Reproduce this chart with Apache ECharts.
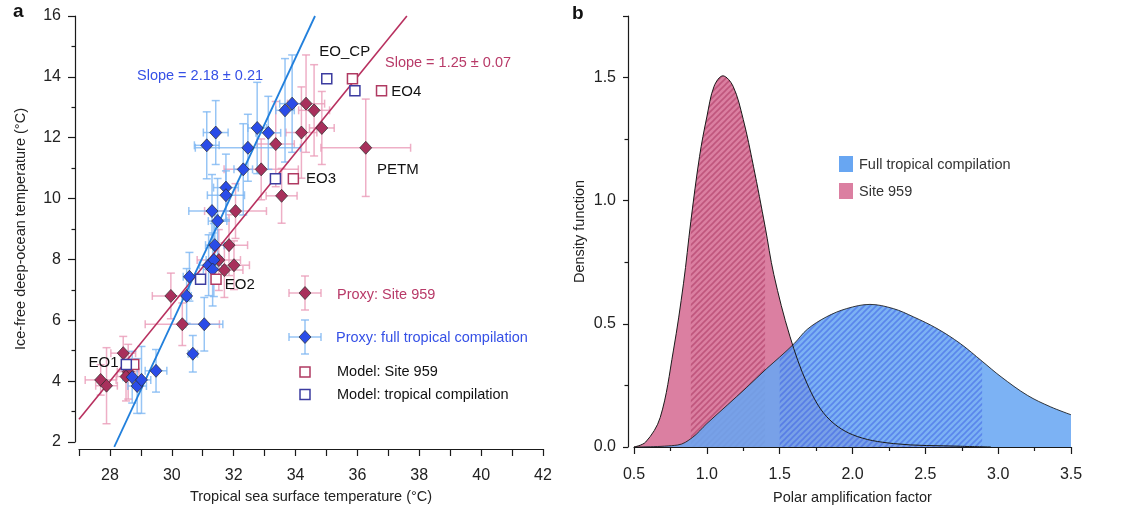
<!DOCTYPE html>
<html><head><meta charset="utf-8">
<script src="https://cdn.jsdelivr.net/npm/echarts@6/dist/echarts.min.js"></script>
<style>html,body{margin:0;padding:0;background:#fff}#c{width:1139px;height:507px}</style>
</head><body><div id="c"></div>
<script>
// ---------- Panel a data ----------
const siteProxyX    = [27.70, 27.89, 28.43, 28.59, 28.52, 29.97, 30.34, 31.70, 32.01, 31.52, 31.85, 32.06, 33.55, 32.89, 33.36, 34.19, 34.34, 34.60, 34.85, 36.27];
const siteProxyY    = [4.04, 3.85, 4.92, 4.31, 4.15, 6.80, 5.87, 7.65, 7.81, 7.98, 8.47, 9.59, 10.09, 10.96, 11.79, 12.17, 13.12, 12.90, 12.32, 11.67];
const siteProxyXErr = [0.5, 0.35, 0.4, 0.35, 0.3, 0.6, 1.2, 0.6, 0.5, 0.7, 0.6, 1.0, 0.5, 1.2, 0.6, 0.5, 0.6, 0.5, 0.4, 1.45];
const siteProxyYErr = [0.5, 1.25, 0.55, 0.9, 0.8, 0.75, 0.7, 0.9, 0.8, 1.0, 1.0, 0.9, 0.9, 1.0, 1.4, 1.5, 1.6, 1.5, 1.2, 1.6];
const siteProxyLabels = ['', '', '', '', '', '', '', '', '', '', '', '', '', '', '', '', '', '', '', 'PETM'];

const tropProxyX    = [28.72, 28.88, 29.02, 29.49, 30.68, 31.05, 30.48, 30.57, 31.19, 31.36, 31.32, 31.39, 31.48, 31.30, 31.75, 31.75, 32.31, 31.13, 31.42, 32.46, 32.76, 33.12, 33.66, 33.89];
const tropProxyY    = [4.13, 3.84, 4.04, 4.34, 4.90, 5.87, 6.80, 7.43, 7.81, 7.98, 7.67, 8.47, 9.26, 9.59, 10.36, 10.11, 10.96, 11.75, 12.17, 11.67, 12.32, 12.16, 12.90, 13.12];
const tropProxyXErr = [0.3, 0.3, 0.3, 0.35, 0.15, 0.6, 0.15, 0.2, 0.3, 0.25, 0.3, 0.3, 0.3, 0.75, 0.4, 0.6, 0.3, 0.4, 0.4, 1.7, 0.3, 0.4, 0.3, 0.4];
const tropProxyYErr = [0.85, 0.9, 1.1, 0.7, 0.6, 0.88, 0.9, 0.8, 1.0, 1.2, 1.2, 1.0, 1.4, 1.2, 1.1, 0.8, 1.5, 1.1, 1.05, 1.1, 1.5, 1.2, 1.7, 1.6];

const modelNames = ['EO1', 'EO2', 'EO3', 'EO_CP', 'EO4'];
const modelSiteX = [28.77, 31.43, 33.93, 35.84, 36.78];
const modelSiteY = [4.55, 7.35, 10.65, 13.94, 13.54];
const modelTropX = [28.53, 30.93, 33.35, 35.01, 35.92];
const modelTropY = [4.55, 7.35, 10.65, 13.94, 13.54];

const siteFitX = [27.0, 37.6];
const siteFitY = [2.75, 16.0];
const tropFitX = [28.14, 34.63];
const tropFitY = [1.84, 16.0];

const slopeSiteText = 'Slope = 1.25 ± 0.07';
const slopeTropText = 'Slope = 2.18 ± 0.21';

// ---------- Panel b data ----------
const siteDensX = [0.5, 0.58, 0.68, 0.77, 0.84, 0.89, 0.95, 1.0, 1.05, 1.11, 1.18, 1.25, 1.32, 1.40, 1.46, 1.57, 1.69, 1.82, 2.0, 2.28, 2.74, 2.95];
const siteDensY = [0.0, 0.02, 0.12, 0.39, 0.665, 0.915, 1.18, 1.34, 1.465, 1.507, 1.465, 1.33, 1.14, 0.895, 0.70, 0.45, 0.255, 0.125, 0.05, 0.014, 0.003, 0.0];
const tropDensX = [0.5, 0.8, 0.9, 1.0, 1.14, 1.27, 1.41, 1.5, 1.6, 1.69, 1.82, 1.96, 2.12, 2.28, 2.42, 2.58, 2.74, 2.89, 3.02, 3.2, 3.36, 3.5];
const tropDensY = [0.0, 0.008, 0.038, 0.095, 0.17, 0.24, 0.318, 0.365, 0.42, 0.478, 0.528, 0.562, 0.579, 0.562, 0.528, 0.481, 0.42, 0.348, 0.285, 0.21, 0.163, 0.131];
const siteRange = [0.89, 1.40];
const tropRange = [1.5, 2.89];

// ---------- helpers ----------
const FONT = '"Liberation Sans", Arial, Helvetica, sans-serif';
const pts = (xs, ys) => xs.map((x, i) => [x, ys[i]]);
const errPts = (xs, ys, ex, ey) => xs.map((x, i) => [x, ys[i], ex[i], ey[i]]);
const inRange = (xs, ys, r) => pts(xs, ys).filter(p => p[0] >= r[0] - 1e-9 && p[0] <= r[1] + 1e-9);

function errRender(color) {
  return function (params, api) {
    const x = api.value(0), y = api.value(1), ex = api.value(2), ey = api.value(3);
    const l = api.coord([x - ex, y]), r = api.coord([x + ex, y]);
    const b = api.coord([x, y - ey]), t = api.coord([x, y + ey]);
    const c = 4;
    const st = () => ({ stroke: color, lineWidth: 1.5 });
    const ln = (x1, y1, x2, y2) => ({ type: 'line', shape: { x1, y1, x2, y2 }, style: st() });
    return { type: 'group', children: [
      ln(l[0], l[1], r[0], r[1]),
      ln(l[0], l[1] - c, l[0], l[1] + c),
      ln(r[0], r[1] - c, r[0], r[1] + c),
      ln(b[0], b[1], t[0], t[1]),
      ln(b[0] - c, b[1], b[0] + c, b[1]),
      ln(t[0] - c, t[1], t[0] + c, t[1])
    ]};
  };
}

function hatch(color) {
  const s = 6, cv = document.createElement('canvas');
  cv.width = s; cv.height = s;
  const g = cv.getContext('2d');
  g.strokeStyle = color; g.lineWidth = 1.6;
  g.beginPath();
  g.moveTo(-1, s + 1); g.lineTo(s + 1, -1);
  g.moveTo(-1, 1); g.lineTo(1, -1);
  g.moveTo(s - 1, s + 1); g.lineTo(s + 1, s - 1);
  g.stroke();
  return cv;
}

const RED = '#a8305c', BLUE = '#2a4ce8';
const PINK_ERR = 'rgba(234,155,184,0.8)', BLUE_ERR = 'rgba(125,183,242,0.8)';
const AX = '#1a1a1a';

const labelCfg = { color: '#111', fontSize: 15, fontFamily: FONT };
const siteLabelPos = { EO2: { position: 'right', distance: 3, offset: [0, 6] }, EO3: { position: 'right', distance: 7 }, EO4: { position: 'right', distance: 4, offset: [0, 1] } };
const tropLabelPos = { EO1: { position: 'left', distance: 2, offset: [0, -2] }, EO_CP: { position: 'top', distance: 14, offset: [18, 0] } };

const siteModelData = modelSiteX.map((x, i) => {
  const n = modelNames[i], p = siteLabelPos[n];
  return p ? { value: [x, modelSiteY[i]], label: Object.assign({ show: true, formatter: n }, labelCfg, p) } : { value: [x, modelSiteY[i]] };
});
const tropModelData = modelTropX.map((x, i) => {
  const n = modelNames[i], p = tropLabelPos[n];
  return p ? { value: [x, modelTropY[i]], label: Object.assign({ show: true, formatter: n }, labelCfg, p) } : { value: [x, modelTropY[i]] };
});
const siteProxyData = siteProxyX.map((x, i) => {
  const n = siteProxyLabels[i];
  return n ? { value: [x, siteProxyY[i]], label: Object.assign({ show: true, formatter: n, position: 'right', distance: 5, offset: [0, 22] }, labelCfg) } : { value: [x, siteProxyY[i]] };
});

const axisCommon = (extra) => Object.assign({
  type: 'value',
  splitLine: { show: false },
  axisLine: { show: true, lineStyle: { color: AX, width: 1.2 } },
  axisTick: { show: true, length: 7, lineStyle: { color: AX, width: 1.2 } },
  axisLabel: { fontSize: 16, color: '#222', fontFamily: FONT },
  nameLocation: 'middle',
  nameTextStyle: { fontSize: 14.5, color: '#222', fontFamily: FONT }
}, extra);

const chart = echarts.init(document.getElementById('c'));
const option = {
  animation: false,
  backgroundColor: '#fff',
  textStyle: { fontFamily: FONT },
  grid: [
    { left: 79, top: 16, width: 464, height: 426, containLabel: false, outerBoundsMode: 'none' },
    { left: 634, top: 16, width: 437, height: 431, containLabel: false, outerBoundsMode: 'none' }
  ],
  xAxis: [
    axisCommon({ gridIndex: 0, min: 27, max: 42, interval: 1, offset: 7,
      axisLabel: { fontSize: 16, color: '#222', fontFamily: FONT, margin: 19, formatter: v => (Math.round(v) % 2 === 0 ? String(v) : '') },
      name: 'Tropical sea surface temperature (°C)', nameGap: 40 }),
    axisCommon({ gridIndex: 1, min: 0.5, max: 3.5, interval: 0.5, offset: 1,
      minorTick: { show: true, splitNumber: 2, length: 4, lineStyle: { color: AX, width: 1.2 } },
      axisLabel: { fontSize: 16, color: '#222', fontFamily: FONT, margin: 19, formatter: v => v.toFixed(1) },
      name: 'Polar amplification factor', nameGap: 42 })
  ],
  yAxis: [
    axisCommon({ gridIndex: 0, min: 2, max: 16, interval: 2, offset: 4,
      minorTick: { show: true, splitNumber: 2, length: 3.5, lineStyle: { color: AX, width: 1.2 } },
      axisLabel: { fontSize: 16, color: '#222', fontFamily: FONT, margin: 14 },
      name: 'Ice-free deep-ocean temperature (°C)', nameGap: 47, nameRotate: 90 }),
    axisCommon({ gridIndex: 1, min: 0, max: 1.75, interval: 0.5, offset: 6,
      minorTick: { show: true, splitNumber: 2, length: 3.5, lineStyle: { color: AX, width: 1.2 } },
      axisTick: { show: true, length: 5, lineStyle: { color: AX, width: 1.2 } },
      axisLabel: { fontSize: 16, color: '#222', fontFamily: FONT, margin: 12,
        formatter: v => (Math.abs(v * 2 - Math.round(v * 2)) < 1e-6 ? v.toFixed(1) : '') },
      name: 'Density function', nameGap: 41, nameRotate: 90 })
  ],
  series: [
    // ---- panel a ----
    { type: 'custom', name: 'siteErr', xAxisIndex: 0, yAxisIndex: 0, renderItem: errRender(PINK_ERR),
      encode: { x: 0, y: 1 }, data: errPts(siteProxyX, siteProxyY, siteProxyXErr, siteProxyYErr), z: 1, silent: true },
    { type: 'custom', name: 'tropErr', xAxisIndex: 0, yAxisIndex: 0, renderItem: errRender(BLUE_ERR),
      encode: { x: 0, y: 1 }, data: errPts(tropProxyX, tropProxyY, tropProxyXErr, tropProxyYErr), z: 1, silent: true },
    { type: 'line', name: 'siteFit', xAxisIndex: 0, yAxisIndex: 0, data: pts(siteFitX, siteFitY), symbol: 'none',
      lineStyle: { color: '#b8305f', width: 1.6 }, z: 2, clip: false },
    { type: 'line', name: 'tropFit', xAxisIndex: 0, yAxisIndex: 0, data: pts(tropFitX, tropFitY), symbol: 'none',
      lineStyle: { color: '#2280dc', width: 1.8 }, z: 2, clip: false },
    { type: 'scatter', name: 'Proxy: Site 959', xAxisIndex: 0, yAxisIndex: 0, data: siteProxyData, symbol: 'diamond', symbolSize: [12, 13],
      itemStyle: { color: RED, borderColor: '#2a2a2a', borderWidth: 0.7, opacity: 1 }, z: 3 },
    { type: 'scatter', name: 'Proxy: full tropical compilation', xAxisIndex: 0, yAxisIndex: 0, data: pts(tropProxyX, tropProxyY), symbol: 'diamond', symbolSize: [12, 13],
      itemStyle: { color: BLUE, borderColor: '#2a2a2a', borderWidth: 0.7, opacity: 1 }, z: 3 },
    { type: 'scatter', name: 'Model: Site 959', xAxisIndex: 0, yAxisIndex: 0, data: siteModelData, symbol: 'rect', symbolSize: 10,
      itemStyle: { color: '#fff', borderColor: '#b03a62', borderWidth: 1.5, opacity: 1 }, z: 4 },
    { type: 'scatter', name: 'Model: tropical compilation', xAxisIndex: 0, yAxisIndex: 0, data: tropModelData, symbol: 'rect', symbolSize: 10,
      itemStyle: { color: '#fff', borderColor: '#3c3ca0', borderWidth: 1.5, opacity: 1 }, z: 4 },
    // ---- panel b ----
    { type: 'line', name: 'Site 959', xAxisIndex: 1, yAxisIndex: 1, data: pts(siteDensX, siteDensY), smooth: 0.35, symbol: 'none',
      lineStyle: { color: '#1a1a1a', width: 1 }, areaStyle: { color: '#db7fa1', opacity: 1 }, z: 2 },
    { type: 'line', name: 'Site 959 range', xAxisIndex: 1, yAxisIndex: 1, data: inRange(siteDensX, siteDensY, siteRange), smooth: 0.35, symbol: 'none',
      lineStyle: { width: 0, opacity: 0 }, areaStyle: { color: { image: hatch('rgba(165,45,90,0.5)'), repeat: 'repeat' }, opacity: 1 }, z: 2 },
    { type: 'line', name: 'Full tropical compilation', xAxisIndex: 1, yAxisIndex: 1, data: pts(tropDensX, tropDensY), smooth: 0.35, symbol: 'none',
      lineStyle: { color: '#1a1a1a', width: 1, opacity: 0.85 }, areaStyle: { color: '#68a6f2', opacity: 0.87 }, z: 2 },
    { type: 'line', name: 'Tropical range', xAxisIndex: 1, yAxisIndex: 1, data: inRange(tropDensX, tropDensY, tropRange), smooth: 0.35, symbol: 'none',
      lineStyle: { width: 0, opacity: 0 }, areaStyle: { color: { image: hatch('rgba(55,90,228,0.5)'), repeat: 'repeat' }, opacity: 1 }, z: 2 }
  ],
  graphic: [
    { type: 'text', left: 13, top: 2, style: { text: 'a', font: 'bold 19px ' + FONT, fill: '#111' } },
    { type: 'text', left: 572, top: 4, style: { text: 'b', font: 'bold 19px ' + FONT, fill: '#111' } },
    { type: 'text', x: 137, y: 76, style: { text: slopeTropText, font: '14.5px ' + FONT, fill: '#3550e6', textVerticalAlign: 'middle' } },
    { type: 'text', x: 385, y: 63, style: { text: slopeSiteText, font: '14.5px ' + FONT, fill: '#b83a68', textVerticalAlign: 'middle' } },
    // legend panel a
    { type: 'group', children: [
      { type: 'line', shape: { x1: 289, y1: 293, x2: 321, y2: 293 }, style: { stroke: PINK_ERR, lineWidth: 1.5 } },
      { type: 'line', shape: { x1: 289, y1: 289, x2: 289, y2: 297 }, style: { stroke: PINK_ERR, lineWidth: 1.5 } },
      { type: 'line', shape: { x1: 321, y1: 289, x2: 321, y2: 297 }, style: { stroke: PINK_ERR, lineWidth: 1.5 } },
      { type: 'line', shape: { x1: 305, y1: 276, x2: 305, y2: 310 }, style: { stroke: PINK_ERR, lineWidth: 1.5 } },
      { type: 'line', shape: { x1: 301, y1: 276, x2: 309, y2: 276 }, style: { stroke: PINK_ERR, lineWidth: 1.5 } },
      { type: 'line', shape: { x1: 301, y1: 310, x2: 309, y2: 310 }, style: { stroke: PINK_ERR, lineWidth: 1.5 } },
      { type: 'polygon', shape: { points: [[305, 286.5], [311, 293], [305, 299.5], [299, 293]] }, style: { fill: RED, stroke: '#2a2a2a', lineWidth: 0.7 } },
      { type: 'text', x: 337, y: 295, style: { text: 'Proxy: Site 959', font: '14.5px ' + FONT, fill: '#b83a68', textVerticalAlign: 'middle' } },

      { type: 'line', shape: { x1: 289, y1: 337, x2: 321, y2: 337 }, style: { stroke: BLUE_ERR, lineWidth: 1.5 } },
      { type: 'line', shape: { x1: 289, y1: 333, x2: 289, y2: 341 }, style: { stroke: BLUE_ERR, lineWidth: 1.5 } },
      { type: 'line', shape: { x1: 321, y1: 333, x2: 321, y2: 341 }, style: { stroke: BLUE_ERR, lineWidth: 1.5 } },
      { type: 'line', shape: { x1: 305, y1: 320, x2: 305, y2: 354 }, style: { stroke: BLUE_ERR, lineWidth: 1.5 } },
      { type: 'line', shape: { x1: 301, y1: 320, x2: 309, y2: 320 }, style: { stroke: BLUE_ERR, lineWidth: 1.5 } },
      { type: 'line', shape: { x1: 301, y1: 354, x2: 309, y2: 354 }, style: { stroke: BLUE_ERR, lineWidth: 1.5 } },
      { type: 'polygon', shape: { points: [[305, 330.5], [311, 337], [305, 343.5], [299, 337]] }, style: { fill: BLUE, stroke: '#2a2a2a', lineWidth: 0.7 } },
      { type: 'text', x: 336, y: 338, style: { text: 'Proxy: full tropical compilation', font: '14.5px ' + FONT, fill: '#3550e6', textVerticalAlign: 'middle' } },

      { type: 'rect', shape: { x: 300, y: 367, width: 10, height: 10 }, style: { fill: '#fff', stroke: '#b03a62', lineWidth: 1.5 } },
      { type: 'text', x: 337, y: 372, style: { text: 'Model: Site 959', font: '14.5px ' + FONT, fill: '#111', textVerticalAlign: 'middle' } },
      { type: 'rect', shape: { x: 300, y: 389.5, width: 10, height: 10 }, style: { fill: '#fff', stroke: '#3c3ca0', lineWidth: 1.5 } },
      { type: 'text', x: 337, y: 395, style: { text: 'Model: tropical compilation', font: '14.5px ' + FONT, fill: '#111', textVerticalAlign: 'middle' } }
    ]},
    // legend panel b
    { type: 'rect', shape: { x: 839, y: 156, width: 14, height: 16 }, style: { fill: '#68a6f2' } },
    { type: 'text', x: 859, y: 164.5, style: { text: 'Full tropical compilation', font: '14.5px ' + FONT, fill: '#333', textVerticalAlign: 'middle' } },
    { type: 'rect', shape: { x: 839, y: 183, width: 14, height: 16 }, style: { fill: '#db7fa1' } },
    { type: 'text', x: 859, y: 191.5, style: { text: 'Site 959', font: '14.5px ' + FONT, fill: '#333', textVerticalAlign: 'middle' } }
  ]
};
chart.setOption(option);
</script>
</body></html>
